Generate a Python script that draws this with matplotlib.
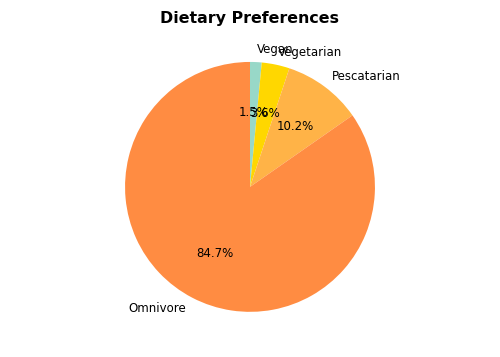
import matplotlib
matplotlib.use("Agg")
import matplotlib.pyplot as plt

labels = ["Vegan", "Vegetarian", "Pescatarian", "Omnivore"]
shares = [1.5, 3.6, 10.2, 84.7]
colors = ["#98D8C8", "#FFD700", "#FFB347", "#FF8C42"]

fig = plt.figure(figsize=(5, 3.57), dpi=100)
# pie radius ~125 px, centred at (250, 187) px
ax = fig.add_axes([0.1875, 0.039, 0.625, 0.875])
ax.pie(shares, labels=labels, colors=colors, autopct="%1.1f%%",
       startangle=90, counterclock=False,
       textprops=dict(fontsize=8.5))
ax.set_xlim(-1.25, 1.25); ax.set_ylim(-1.25, 1.25)
ax.set_aspect("equal")
fig.suptitle("Dietary Preferences", fontsize=11.4, fontweight="bold",
             y=1 - 19 / 357, va="center")
fig.savefig("out.png")
